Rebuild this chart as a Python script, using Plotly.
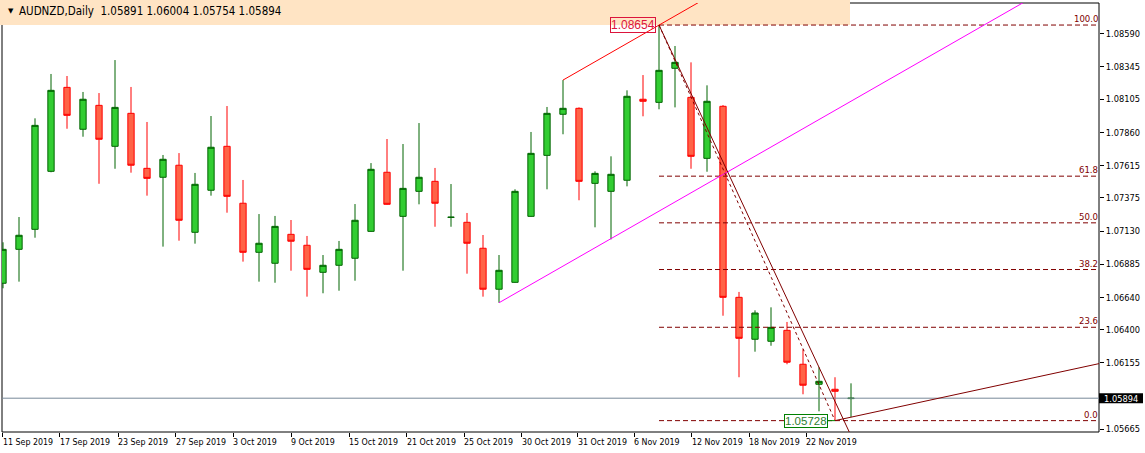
import plotly.graph_objects as go
import pandas as pd

# ---------------- data ----------------
dates = pd.bdate_range("2019-09-11", periods=54).strftime("%d %b %Y").tolist()

open_ = [1.06744, 1.06995, 1.07143, 1.07572, 1.08193, 1.07883, 1.08060, 1.07757, 1.08001, 1.07594,
         1.07528, 1.07617, 1.07121, 1.07432, 1.07757, 1.07336, 1.06973, 1.06892, 1.07106, 1.07025,
         1.06825, 1.06877, 1.06929, 1.07128, 1.07565, 1.07239, 1.07424, 1.07498, 1.07231, 1.07195,
         1.07003, 1.06700, 1.06751, 1.07239, 1.07690, 1.07994, 1.08038, 1.07483, 1.07424, 1.07506,
         1.08105, 1.08082, 1.08334, 1.08119, 1.07668, 1.08053, 1.06640, 1.06330, 1.06315, 1.06396,
         1.06145, 1.05997, 1.05960, 1.05891]
high = [1.07047, 1.07234, 1.07964, 1.08292, 1.08277, 1.08159, 1.08151, 1.08395, 1.08196, 1.07937,
        1.07693, 1.07707, 1.07560, 1.07981, 1.08055, 1.07508, 1.07256, 1.07242, 1.07212, 1.07094,
        1.06953, 1.07057, 1.07330, 1.07633, 1.07811, 1.07774, 1.07929, 1.07597, 1.07478, 1.07264,
        1.07101, 1.06953, 1.07439, 1.07863, 1.08048, 1.08247, 1.08045, 1.07572, 1.07683, 1.08171,
        1.08284, 1.08654, 1.08499, 1.08378, 1.08208, 1.08062, 1.06680, 1.06544, 1.06566, 1.06458,
        1.06256, 1.06123, 1.06049, 1.06004]
low = [1.06707, 1.06756, 1.07081, 1.07565, 1.07887, 1.07828, 1.07480, 1.07591, 1.07562, 1.07392,
       1.07015, 1.07059, 1.07037, 1.07392, 1.07266, 1.06904, 1.06756, 1.06748, 1.06837, 1.06645,
       1.06670, 1.06689, 1.06763, 1.07125, 1.07325, 1.06837, 1.07328, 1.07162, 1.07162, 1.06815,
       1.06645, 1.06600, 1.06748, 1.07236, 1.07439, 1.07846, 1.07358, 1.07158, 1.07069, 1.07461,
       1.07979, 1.08031, 1.08045, 1.07591, 1.07569, 1.06504, 1.06049, 1.06238, 1.06282, 1.06145,
       1.05923, 1.05797, 1.05728, 1.05754]
close = [1.06995, 1.07099, 1.07912, 1.08171, 1.07986, 1.08105, 1.07809, 1.08045, 1.07617, 1.07520,
         1.07661, 1.07210, 1.07476, 1.07750, 1.07387, 1.06973, 1.07040, 1.07165, 1.07055, 1.06847,
         1.06877, 1.06995, 1.07210, 1.07587, 1.07328, 1.07446, 1.07528, 1.07336, 1.07233, 1.07040,
         1.06700, 1.06840, 1.07424, 1.07705, 1.08001, 1.08038, 1.07498, 1.07557, 1.07550, 1.08127,
         1.08090, 1.08319, 1.08378, 1.07683, 1.08090, 1.06640, 1.06337, 1.06524, 1.06418, 1.06160,
         1.05990, 1.06019, 1.05945, 1.05894]

symbol = "AUDNZD,Daily"
current_price = close[-1]

price_ticks = [1.08590, 1.08345, 1.08105, 1.07860, 1.07615, 1.07375, 1.07130,
               1.06885, 1.06640, 1.06400, 1.06155, 1.05665]
date_tick_labels = ["11 Sep 2019", "17 Sep 2019", "23 Sep 2019", "27 Sep 2019", "3 Oct 2019",
                    "9 Oct 2019", "15 Oct 2019", "21 Oct 2019", "25 Oct 2019", "30 Oct 2019",
                    "31 Oct 2019", "6 Nov 2019", "12 Nov 2019", "18 Nov 2019", "22 Nov 2019"]
date_tick_pos = [-0.02, 3.56, 7.19, 10.79, 14.39, 18.02, 21.63, 25.23, 28.83, 32.42,
                 35.92, 39.46, 43.04, 46.63, 50.19]

# drawing objects (anchors are bar indices)
channel_low_bar = 31          # magenta line anchor (low)
channel_high_bar = 35         # red parallel anchor (high)
channel_slope = 0.0006775     # price per bar
trend_bars = (41, 51)         # maroon trend line through highs
fibo_bars = (41, 52)          # fibo from high to low
ray_bar = 52
ray_slope = 0.0002556
fibo_levels = [100.0, 61.8, 50.0, 38.2, 23.6, 0.0]

# ---------------- layout constants ----------------
X0, X1 = -0.0625, 68.5
Y0, Y1 = 1.05644, 1.08817
XEND = 72
FONT = "DejaVu Sans Condensed, Liberation Sans Narrow, sans-serif"
MAROON = "#800000"

x = list(range(len(open_)))
fig = go.Figure()

# fibo horizontal levels (under candles)
f_hi = high[fibo_bars[0]]
f_lo = low[fibo_bars[1]]
for lv in fibo_levels:
    pr = f_lo + (f_hi - f_lo) * lv / 100.0
    fig.add_trace(go.Scatter(x=[fibo_bars[0], XEND], y=[pr, pr], mode="lines",
                             line=dict(color=MAROON, width=1, dash="5px,3px"),
                             hoverinfo="skip"))

# current price line
fig.add_trace(go.Scatter(x=[X0 - 1, XEND], y=[current_price, current_price], mode="lines",
                         line=dict(color="#778899", width=1), hoverinfo="skip"))

# candles
fig.add_trace(go.Candlestick(
    x=x, open=open_, high=high, low=low, close=close,
    increasing=dict(fillcolor="#32CD32", line=dict(color="#006400", width=1)),
    decreasing=dict(fillcolor="#FF6347", line=dict(color="#FF0000", width=1)),
    whiskerwidth=0, hoverinfo="skip", text=dates))

# magenta channel line
b = channel_low_bar
fig.add_trace(go.Scatter(x=[b, XEND], y=[low[b], low[b] + (XEND - b) * channel_slope],
                         mode="lines", line=dict(color="#FF00FF", width=1), hoverinfo="skip"))
# red parallel
b = channel_high_bar
fig.add_trace(go.Scatter(x=[b, XEND], y=[high[b], high[b] + (XEND - b) * channel_slope],
                         mode="lines", line=dict(color="#FF0000", width=1), hoverinfo="skip"))
# maroon trend line through highs (ray)
a, c = trend_bars
tslope = (high[c] - high[a]) / (c - a)
fig.add_trace(go.Scatter(x=[a, a + 20], y=[high[a], high[a] + 20 * tslope],
                         mode="lines", line=dict(color=MAROON, width=1), hoverinfo="skip"))
# fibo diagonal (dotted)
fig.add_trace(go.Scatter(x=list(fibo_bars), y=[f_hi, f_lo], mode="lines",
                         line=dict(color=MAROON, width=1, dash="3px,3px"), hoverinfo="skip"))
# maroon ray from the last low
fig.add_trace(go.Scatter(x=[ray_bar, XEND], y=[low[ray_bar], low[ray_bar] + (XEND - ray_bar) * ray_slope],
                         mode="lines", line=dict(color=MAROON, width=1), hoverinfo="skip"))

# ---------------- shapes ----------------
PLOT_W, PLOT_H = 1097, 429
def py(price):
    return (price - Y0) / (Y1 - Y0)

shapes = [
    dict(type="rect", xref="paper", yref="paper", x0=0, x1=1, y0=0, y1=1,
         line=dict(color="black", width=1), fillcolor="rgba(0,0,0,0)", layer="below"),
    dict(type="rect", xref="paper", yref="paper", x0=-2 / PLOT_W, x1=848 / PLOT_W,
         y0=(PLOT_H - 22) / PLOT_H, y1=(PLOT_H + 3) / PLOT_H,
         line=dict(width=0), fillcolor="#FFE4C4", layer="below"),
    dict(type="rect", xref="paper", yref="paper", x0=1.0, x1=1 + 44 / PLOT_W,
         y0=py(current_price) - 5 / PLOT_H, y1=py(current_price) + 5 / PLOT_H,
         line=dict(width=0), fillcolor="black", layer="above"),
]

annotations = []
# header
annotations.append(dict(xref="paper", yref="paper", x=4 / PLOT_W, y=(PLOT_H - 8) / PLOT_H,
                        text="▼", showarrow=False, xanchor="left", yanchor="middle",
                        font=dict(family="DejaVu Sans", size=7, color="black")))
annotations.append(dict(xref="paper", yref="paper", x=15 / PLOT_W, y=(PLOT_H - 8) / PLOT_H,
                        text=symbol + "\u00a0\u00a0" + " ".join(f"{v:.5f}" for v in
                              [open_[-1], high[-1], low[-1], close[-1]]),
                        showarrow=False, xanchor="left", yanchor="middle",
                        font=dict(family=FONT, size=11.5, color="black")))
# date labels
for pos, lab in zip(date_tick_pos, date_tick_labels):
    annotations.append(dict(xref="x", yref="paper", x=pos, y=0, yshift=-3, xshift=-2,
                            text=lab, showarrow=False, xanchor="left", yanchor="top",
                            font=dict(family=FONT, size=8.8, color="black")))
# fibo level labels
for lv in fibo_levels:
    pr = f_lo + (f_hi - f_lo) * lv / 100.0
    annotations.append(dict(xref="paper", yref="y", x=1, y=pr, xshift=1, yshift=-1,
                            text=f"{lv:.1f}", showarrow=False, xanchor="right", yanchor="bottom",
                            font=dict(family=FONT, size=9.5, color=MAROON)))
# high / low price labels
annotations.append(dict(xref="x", yref="y", x=fibo_bars[0], y=f_hi, xshift=-3,
                        text=f"{f_hi:.5f}", showarrow=False, xanchor="right", yanchor="middle",
                        bordercolor="#DC143C", borderwidth=1, borderpad=0,
                        font=dict(family="Liberation Sans", size=12, color="#DC143C")))
annotations.append(dict(xref="x", yref="y", x=fibo_bars[1], y=f_lo, ax=-29, ay=0,
                        text=f"{f_lo:.5f}", showarrow=True, arrowhead=0, arrowwidth=1,
                        arrowcolor="#008000", standoff=0,
                        bordercolor="#008000", borderwidth=1, borderpad=0, bgcolor="white",
                        font=dict(family="Liberation Sans", size=11.5, color="#2E7D32")))
# current price tag text
annotations.append(dict(xref="paper", yref="y", x=1, y=current_price, xshift=3,
                        text=f"{current_price:.5f}", showarrow=False, xanchor="left",
                        yanchor="middle", font=dict(family=FONT, size=9.2, color="white")))

fig.update_layout(
    width=1145, height=453,
    margin=dict(l=2, r=46, t=3, b=21),
    paper_bgcolor="white", plot_bgcolor="white",
    showlegend=False, boxgap=0.4375,
    shapes=shapes, annotations=annotations,
    xaxis=dict(range=[X0, X1], showgrid=False, zeroline=False, showline=False,
               tickmode="array", tickvals=date_tick_pos, ticks="outside", ticklen=4,
               tickcolor="black", showticklabels=False,
               rangeslider=dict(visible=False), fixedrange=True),
    yaxis=dict(range=[Y0, Y1], side="right", showgrid=False, zeroline=False, showline=False,
               tickmode="array", tickvals=price_ticks, ticktext=[f"{v:.5f}" for v in price_ticks],
               ticks="outside", ticklen=4, tickcolor="black",
               tickfont=dict(family=FONT, size=9.2, color="black"), fixedrange=True),
)

fig.write_html("out.html", config={"displayModeBar": False},
               post_script="document.body.style.margin='0px';document.body.style.overflow='hidden';")
